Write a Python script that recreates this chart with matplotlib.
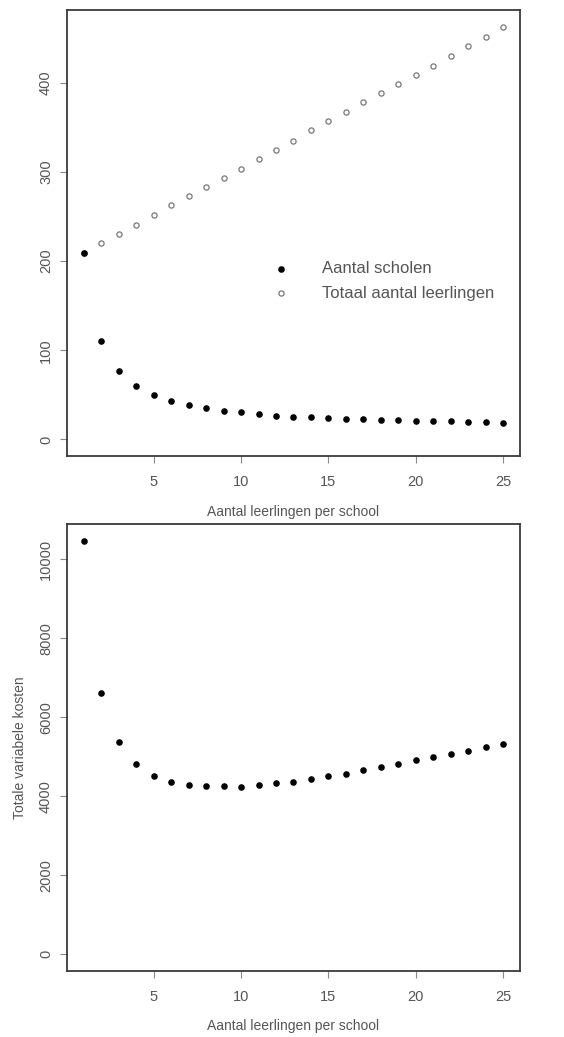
import matplotlib
matplotlib.use('Agg')
import matplotlib.pyplot as plt

plt.rcParams['font.family'] = 'Liberation Sans'

# aantal leerlingen per school
k = list(range(1, 26))

# bovenste figuur
aantal_scholen = [209, 110, 77, 60, 50, 43.6, 38.8, 35.4, 32, 30.5, 28.3, 26.5, 25.5,
                  25, 24, 23, 22.8, 21.8, 21.5, 20.6, 20.4, 20.2, 19.5, 19.3, 19]
totaal_leerlingen = [209, 220, 230.6, 240.7, 251.8, 262.6, 273, 283.5, 292.7, 303.6,
                     314.7, 324.8, 335, 346.4, 356.9, 367, 378, 388.5, 399, 409,
                     419, 430, 441, 451, 462]

# onderste figuur
kosten = [10470, 6610, 5370, 4820, 4520, 4370, 4280, 4250, 4250, 4245, 4290, 4345,
          4370, 4430, 4520, 4570, 4665, 4740, 4820, 4925, 5000, 5065, 5155, 5240, 5325]

xlabel = 'Aantal leerlingen per school'
txt = '#555555'
frame = '#3a3a3a'

fig = plt.figure(figsize=(5.64, 10.37), dpi=100)
ax1 = fig.add_axes([0.1188, 0.5603, 0.803, 0.4301])
ax2 = fig.add_axes([0.1188, 0.0639, 0.803, 0.4305])


def style(ax, yticks):
    for s in ax.spines.values():
        s.set_color(frame)
        s.set_linewidth(1.3)
    ax.set_xticks([5, 10, 15, 20, 25])
    ax.set_yticks(yticks)
    ax.tick_params(axis='both', direction='out', length=5, width=0.8, color='#888888',
                   labelcolor=txt, labelsize=10.5)
    ax.tick_params(axis='x', pad=9)
    ax.tick_params(axis='y', pad=5)
    for lab in ax.get_yticklabels():
        lab.set_rotation(90)
        lab.set_va('center')
    ax.set_xlabel(xlabel, color=txt, fontsize=10, labelpad=11)


sc2 = ax1.scatter(k, totaal_leerlingen, s=14, facecolor='white', edgecolor='#777777', linewidth=0.9,
                  marker='o', zorder=3)
sc1 = ax1.scatter(k, aantal_scholen, s=14, color='black', marker='o', zorder=4)
ax1.set_xlim(0.04, 25.96)
ax1.set_ylim(-18.5, 481.5)
style(ax1, [0, 100, 200, 300, 400])
ax1.legend([sc1, sc2], ['Aantal scholen', 'Totaal aantal leerlingen'], frameon=False,
           loc='upper left', bbox_to_anchor=(0.42, 0.47), fontsize=12,
           handletextpad=2.0, labelcolor=txt, labelspacing=0.55, handlelength=1)

ax2.scatter(k, kosten, s=14, color='black', marker='o', zorder=3)
ax2.set_xlim(0.04, 25.96)
ax2.set_ylim(-420, 10890)
style(ax2, [0, 2000, 4000, 6000, 8000, 10000])
ax2.set_ylabel('Totale variabele kosten', color=txt, fontsize=10, labelpad=9)

fig.savefig('out.png', dpi=100)
